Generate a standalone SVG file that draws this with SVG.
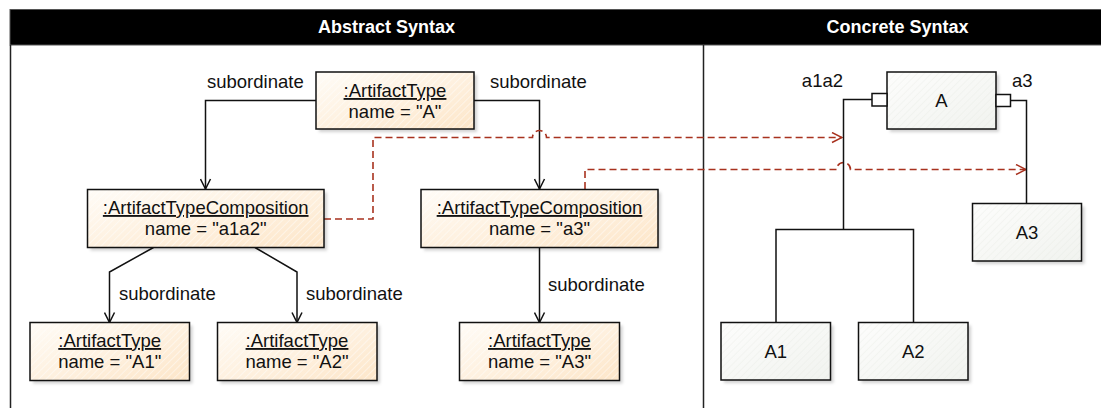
<svg xmlns="http://www.w3.org/2000/svg" width="1101" height="408" viewBox="0 0 1101 408">
  <defs>
    <style>
      text { font-family: "Liberation Sans", Arial, sans-serif; font-size: 18.5px; fill: #111; }
      .hdr { font-weight: bold; font-size: 18px; fill: #fff; text-anchor: middle; }
      .mid { text-anchor: middle; }
      .ul { text-decoration: underline; }
      .outline { fill: none; stroke: #111; stroke-width: 1.5; }
      .obj { fill: url(#peach); }
      .view { fill: url(#grey); }
      .hatch { fill: url(#hatch); }
      .hatch-g { fill: url(#hatch-grey); }
      .edge { fill: none; stroke: #111; stroke-width: 1.5; }
      .trace { fill: none; stroke: #a8321f; stroke-width: 1.6; stroke-dasharray: 7 4; }
      .port { fill: #fff; stroke: #111; stroke-width: 1.5; }
    </style>
    <linearGradient id="peach" x1="0" y1="0" x2="1" y2="1">
      <stop offset="0" stop-color="#fffcf7"/>
      <stop offset="1" stop-color="#fde6c9"/>
    </linearGradient>
    <linearGradient id="grey" x1="0" y1="0" x2="1" y2="1">
      <stop offset="0" stop-color="#fdfdfc"/>
      <stop offset="1" stop-color="#f1f3ef"/>
    </linearGradient>
    <pattern id="hatch" width="5" height="5" patternUnits="userSpaceOnUse" patternTransform="rotate(45)">
      <line x1="0" y1="0" x2="0" y2="5" stroke="#ffffff" stroke-width="1.6" stroke-opacity="0.55"/>
    </pattern>
    <pattern id="hatch-grey" width="5" height="5" patternUnits="userSpaceOnUse" patternTransform="rotate(45)">
      <line x1="0" y1="0" x2="0" y2="5" stroke="#dfe3dc" stroke-width="1" stroke-opacity="0.5"/>
    </pattern>
    <filter id="shadow" x="-10%" y="-10%" width="130%" height="140%">
      <feDropShadow dx="3" dy="3" stdDeviation="1.5" flood-color="#000" flood-opacity="0.18"/>
    </filter>
    <marker id="open" viewBox="0 0 12 12" refX="11" refY="6" markerWidth="12" markerHeight="12" markerUnits="userSpaceOnUse" orient="auto">
      <path d="M1,1 L11,6 L1,11" fill="none" stroke="#111" stroke-width="1.5"/>
    </marker>
    <marker id="open-red" viewBox="0 0 12 12" refX="11" refY="6" markerWidth="12" markerHeight="12" markerUnits="userSpaceOnUse" orient="auto">
      <path d="M1,1 L11,6 L1,11" fill="none" stroke="#a8321f" stroke-width="1.5"/>
    </marker>
  </defs>

  <rect width="1101" height="408" fill="#fff"/>

  <!-- frame: header bar, left border and the divider between the two views -->
  <g id="frame">
    <rect x="10" y="9.5" width="1095" height="35.5" fill="#000" stroke="#555" stroke-width="1"/>
    <line x1="10.5" y1="45" x2="10.5" y2="408" stroke="#222" stroke-width="1.5"/>
    <line x1="703.5" y1="45" x2="703.5" y2="408" stroke="#222" stroke-width="1.5"/>
    <text class="hdr" x="386.5" y="32.5">Abstract Syntax</text>
    <text class="hdr" x="897.5" y="32.5">Concrete Syntax</text>
  </g>

  <!-- connectors -->
  <g id="connectors">
    <path class="edge" d="M316,100.5 H205.5 V189" marker-end="url(#open)"/>
    <path class="edge" d="M474,100.5 H539.5 V189" marker-end="url(#open)"/>
    <path class="edge" d="M153.5,247.5 L109.5,272 V322.5" marker-end="url(#open)"/>
    <path class="edge" d="M255,247.5 L297,272 V322.5" marker-end="url(#open)"/>
    <path class="edge" d="M539.5,247.5 V322.5" marker-end="url(#open)"/>
    <text x="207" y="88">subordinate</text>
    <text x="490" y="88">subordinate</text>
    <text x="119" y="300">subordinate</text>
    <text x="306" y="300">subordinate</text>
    <text x="548" y="291">subordinate</text>

    <path class="trace" d="M324,219 H373 V137.5 H532.5 A7,7 0 0 1 546.5,137.5 H842" marker-end="url(#open-red)"/>
    <path class="trace" d="M585,189 V169.5 H836.5 A7,7 0 0 1 850.5,169.5 H1026" marker-end="url(#open-red)"/>

    <path class="edge" d="M872,99.5 H843.5 V229.5"/>
    <path class="edge" d="M776,322.5 V229.5 H913.5 V322.5"/>
    <path class="edge" d="M1010.5,100.5 H1026.5 V203.5"/>
    <text x="843" y="87" text-anchor="end">a1a2</text>
    <text x="1012" y="87">a3</text>
  </g>

  <!-- abstract syntax objects -->
  <g id="at-A">
    <rect class="obj" x="316" y="72" width="158" height="57" filter="url(#shadow)"/>
    <rect class="hatch" x="316" y="72" width="158" height="57"/>
    <rect class="outline" x="316" y="72" width="158" height="57"/>
    <text class="mid ul" x="395" y="97">:ArtifactType</text>
    <text class="mid" x="395" y="118">name = "A"</text>
  </g>
  <g id="atc-a1a2">
    <rect class="obj" x="87.5" y="189.5" width="236.5" height="58" filter="url(#shadow)"/>
    <rect class="hatch" x="87.5" y="189.5" width="236.5" height="58"/>
    <rect class="outline" x="87.5" y="189.5" width="236.5" height="58"/>
    <text class="mid ul" x="205.7" y="214">:ArtifactTypeComposition</text>
    <text class="mid" x="205.7" y="235">name = "a1a2"</text>
  </g>
  <g id="atc-a3">
    <rect class="obj" x="421" y="189.5" width="237" height="58" filter="url(#shadow)"/>
    <rect class="hatch" x="421" y="189.5" width="237" height="58"/>
    <rect class="outline" x="421" y="189.5" width="237" height="58"/>
    <text class="mid ul" x="539.5" y="214">:ArtifactTypeComposition</text>
    <text class="mid" x="539.5" y="235">name = "a3"</text>
  </g>
  <g id="at-A1">
    <rect class="obj" x="30" y="322.5" width="159.5" height="58" filter="url(#shadow)"/>
    <rect class="hatch" x="30" y="322.5" width="159.5" height="58"/>
    <rect class="outline" x="30" y="322.5" width="159.5" height="58"/>
    <text class="mid ul" x="109.7" y="347">:ArtifactType</text>
    <text class="mid" x="109.7" y="368">name = "A1"</text>
  </g>
  <g id="at-A2">
    <rect class="obj" x="217.5" y="322.5" width="159.5" height="58" filter="url(#shadow)"/>
    <rect class="hatch" x="217.5" y="322.5" width="159.5" height="58"/>
    <rect class="outline" x="217.5" y="322.5" width="159.5" height="58"/>
    <text class="mid ul" x="297" y="347">:ArtifactType</text>
    <text class="mid" x="297" y="368">name = "A2"</text>
  </g>
  <g id="at-A3">
    <rect class="obj" x="459.5" y="322.5" width="160" height="58" filter="url(#shadow)"/>
    <rect class="hatch" x="459.5" y="322.5" width="160" height="58"/>
    <rect class="outline" x="459.5" y="322.5" width="160" height="58"/>
    <text class="mid ul" x="539.5" y="347">:ArtifactType</text>
    <text class="mid" x="539.5" y="368">name = "A3"</text>
  </g>

  <!-- concrete syntax elements -->
  <g id="cs-A">
    <rect class="view" x="887" y="72" width="109" height="57" filter="url(#shadow)"/>
    <rect class="hatch-g" x="887" y="72" width="109" height="57"/>
    <rect class="outline" x="887" y="72" width="109" height="57"/>
    <text class="mid" x="941.5" y="106.5">A</text>
    <rect class="port" x="872" y="93.5" width="15" height="12.5"/>
    <rect class="port" x="996" y="94.5" width="14.5" height="12"/>
  </g>
  <g id="cs-A1">
    <rect class="view" x="721" y="322.5" width="109.5" height="57.5" filter="url(#shadow)"/>
    <rect class="hatch-g" x="721" y="322.5" width="109.5" height="57.5"/>
    <rect class="outline" x="721" y="322.5" width="109.5" height="57.5"/>
    <text class="mid" x="775.8" y="357.5">A1</text>
  </g>
  <g id="cs-A2">
    <rect class="view" x="858.5" y="322.5" width="109.5" height="57.5" filter="url(#shadow)"/>
    <rect class="hatch-g" x="858.5" y="322.5" width="109.5" height="57.5"/>
    <rect class="outline" x="858.5" y="322.5" width="109.5" height="57.5"/>
    <text class="mid" x="913.3" y="357.5">A2</text>
  </g>
  <g id="cs-A3">
    <rect class="view" x="972.5" y="203.5" width="109" height="57.5" filter="url(#shadow)"/>
    <rect class="hatch-g" x="972.5" y="203.5" width="109" height="57.5"/>
    <rect class="outline" x="972.5" y="203.5" width="109" height="57.5"/>
    <text class="mid" x="1027" y="238.5">A3</text>
  </g>
</svg>
